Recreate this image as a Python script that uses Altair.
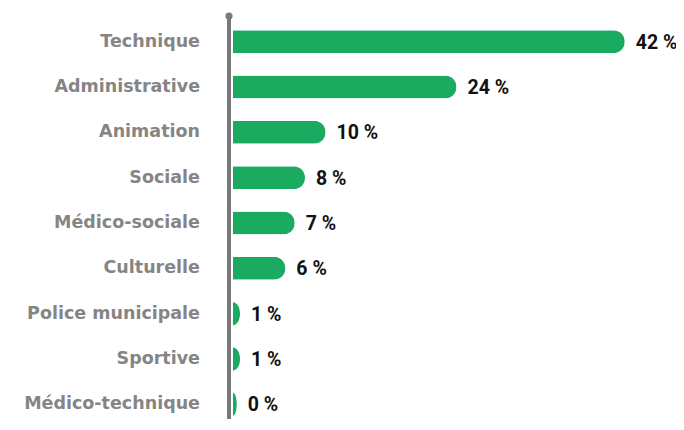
import altair as alt
import pandas as pd

categories = ["Technique", "Administrative", "Animation", "Sociale", "Médico-sociale",
              "Culturelle", "Police municipale", "Sportive", "Médico-technique"]
bar_values = [41.9, 23.9, 9.9, 7.7, 6.6, 5.6, 0.75, 0.75, 0.4]
labels = ["42 %", "24 %", "10 %", "8 %", "7 %", "6 %", "1 %", "1 %", "0 %"]

W, H = 420, 398
ROWS_SPAN = 408
PX = 9.35  # pixels per percent
XMAX = W / PX
BAR_H = 23
R = BAR_H / 2

df = pd.DataFrame({"cat": categories, "v": bar_values, "lab": labels})
df["px"] = df["v"] * PX
# half-ellipse symbol for bars narrower than the end radius
df["path"] = df["px"].apply(
    lambda p: f"M0,-1 A{min(p / R, 1):.3f},1 0 0 1 0,1 Z")
df["small"] = df["px"] < R

LABEL_FONT = "DejaVu Sans"
VALUE_FONT = "Roboto"
GREEN = "#1aaa60"
GREY = "#7a7a7a"

y = alt.Y("cat:N", sort=categories, axis=None,
          scale=alt.Scale(paddingInner=0, paddingOuter=0, range=[0, ROWS_SPAN]))
x = alt.X("v:Q", axis=None, scale=alt.Scale(domain=[0, XMAX], nice=False, zero=True))

base = alt.Chart(df)

bars = base.transform_filter("!datum.small").mark_bar(
    height=BAR_H, cornerRadiusEnd=R, color=GREEN).encode(x=x, y=y)

small = base.transform_filter("datum.small").mark_point(
    filled=True, size=BAR_H * BAR_H, color=GREEN, opacity=1, strokeWidth=0).encode(
    x=alt.value(0), y=y, shape=alt.Shape("path:N", scale=None, legend=None))

vals = base.mark_text(align="left", baseline="middle", dx=11, dy=1,
                      fontSize=19.5, fontWeight="bold", font=VALUE_FONT,
                      color="#111111").encode(x=x, y=y, text="lab:N")

names = base.mark_text(align="right", baseline="middle", dy=0,
                       fontSize=17.5, fontWeight="bold", font=LABEL_FONT,
                       color="#858585").encode(x=alt.value(-33), y=y, text="cat:N")

axis_line = base.mark_rule(color=GREY, strokeWidth=3).encode(
    x=alt.value(-4), y=alt.value(-3), y2=alt.value(ROWS_SPAN + 10))
dot_df = pd.DataFrame({"k": ["top"]})
dot = alt.Chart(dot_df).mark_point(filled=True, size=50, color=GREY, opacity=1).encode(
    x=alt.value(-4), y=alt.value(-3))

chart = alt.layer(axis_line, bars, small, vals, names, dot).properties(
    width=W, height=H,
    autosize=alt.AutoSizeParams(type="none"),
    padding={"left": 225, "top": 11, "right": 23, "bottom": 2},
).configure_view(stroke=None)

chart.save("out.html", embed_options={"renderer": "svg", "actions": False})
